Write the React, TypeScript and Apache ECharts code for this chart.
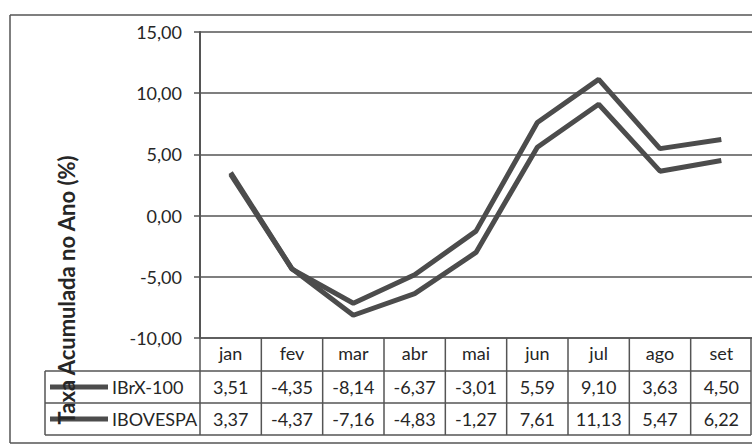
import React, { useEffect, useRef } from "react";
import * as echarts from "echarts";

const months = ["jan", "fev", "mar", "abr", "mai", "jun", "jul", "ago", "set"];
const ibrx100 = [3.51, -4.35, -8.14, -6.37, -3.01, 5.59, 9.1, 3.63, 4.5];
const ibovespa = [3.37, -4.37, -7.16, -4.83, -1.27, 7.61, 11.13, 5.47, 6.22];
const seriesNames = ["IBrX-100", "IBOVESPA"];
const axisTitle = "Taxa Acumulada no Ano (%)";

const FONT = "Lato, 'Open Sans', sans-serif";
const TXT = "#262626";
const LINE = "#4c4c4c";
const GRID = "#555555";

const fmt = (v: number) => v.toFixed(2).replace(".", ",");

export default function App() {
  const ref = useRef<HTMLDivElement>(null);
  useEffect(() => {
    if (!ref.current) return;
    const chart = echarts.init(ref.current, null, { renderer: "svg" });
    const option: any = {
      animation: false,
      backgroundColor: "#ffffff",
      grid: { left: 200, right: 0, top: 32, bottom: 107 },
      xAxis: {
        type: "category",
        data: months,
        boundaryGap: true,
        axisLine: { show: true, onZero: false, lineStyle: { color: GRID, width: 1.5 } },
        axisTick: { show: false },
        axisLabel: { margin: 6, fontSize: 18, color: TXT, fontFamily: FONT },
        splitLine: { show: false },
      },
      yAxis: {
        type: "value",
        min: -10,
        max: 15,
        interval: 5,
        axisLine: { show: true, lineStyle: { color: GRID, width: 2 } },
        axisTick: { show: true, inside: false, length: 6, lineStyle: { color: GRID, width: 1.5 } },
        axisLabel: { margin: 18, fontSize: 18, color: TXT, fontFamily: FONT, formatter: (v: number) => fmt(v) },
        splitLine: { show: true, lineStyle: { color: GRID, width: 1.5 } },
      },
      series: [
        {
          name: seriesNames[0],
          type: "line",
          data: ibrx100,
          symbol: "none",
          lineStyle: { color: LINE, width: 5 },
        },
        {
          name: seriesNames[1],
          type: "line",
          data: ibovespa,
          symbol: "none",
          lineStyle: { color: LINE, width: 5 },
        },
      ],
    };
    chart.setOption(option);

    const x0 = chart.convertToPixel({ xAxisIndex: 0 }, 0) as number;
    const x1 = chart.convertToPixel({ xAxisIndex: 0 }, 1) as number;
    const cw = x1 - x0;
    const left = x0 - cw / 2;
    const axisY = chart.convertToPixel({ yAxisIndex: 0 }, -10) as number;
    const headerBottom = axisY + 33;
    const row1Bottom = headerBottom + 32;
    const row2Bottom = row1Bottom + 32;
    const legLeft = 45;
    const rightEdge = 751;
    const ls = { stroke: GRID, lineWidth: 1.5 };

    const g: any[] = [];
    g.push({ type: "line", shape: { x1: 10, y1: 15, x2: 752, y2: 15 }, style: ls, silent: true });
    g.push({ type: "line", shape: { x1: 10, y1: 15, x2: 10, y2: 443 }, style: ls, silent: true });
    g.push({ type: "line", shape: { x1: 10, y1: 443, x2: 752, y2: 443 }, style: ls, silent: true });
    [headerBottom, row1Bottom, row2Bottom].forEach((y) => {
      g.push({ type: "line", shape: { x1: legLeft, y1: y, x2: rightEdge, y2: y }, style: ls, silent: true });
    });
    g.push({ type: "line", shape: { x1: legLeft, y1: headerBottom, x2: legLeft, y2: row2Bottom }, style: ls, silent: true });
    for (let i = 0; i <= months.length; i++) {
      const x = Math.min(left + i * cw, rightEdge);
      g.push({ type: "line", shape: { x1: x, y1: axisY, x2: x, y2: row2Bottom }, style: ls, silent: true });
    }
    const rows = [ibrx100, ibovespa];
    const rowTops = [headerBottom, row1Bottom];
    rows.forEach((vals, r) => {
      const cy = rowTops[r] + 16;
      g.push({ type: "line", shape: { x1: 50, y1: cy, x2: 108, y2: cy }, style: { stroke: LINE, lineWidth: 5 }, silent: true });
      g.push({
        type: "text",
        x: 112,
        y: cy,
        style: { text: seriesNames[r], font: `18px ${FONT}`, fill: TXT, align: "left", verticalAlign: "middle" },
        silent: true,
      });
      vals.forEach((v, i) => {
        const cx = chart.convertToPixel({ xAxisIndex: 0 }, i) as number;
        g.push({
          type: "text",
          x: cx,
          y: cy,
          style: { text: fmt(v), font: `18px ${FONT}`, fill: TXT, align: "center", verticalAlign: "middle" },
          silent: true,
        });
      });
    });
    g.push({
      type: "text",
      x: 66,
      y: 290,
      rotation: Math.PI / 2,
      style: { text: axisTitle, font: `bold 22px ${FONT}`, fill: TXT, align: "center", verticalAlign: "middle" },
      silent: true,
      z: 10,
    });
    chart.setOption({ graphic: g });

    return () => chart.dispose();
  }, []);
  return <div ref={ref} style={{ position: "fixed", left: 0, top: 0, width: 752, height: 445 }} />;
}
